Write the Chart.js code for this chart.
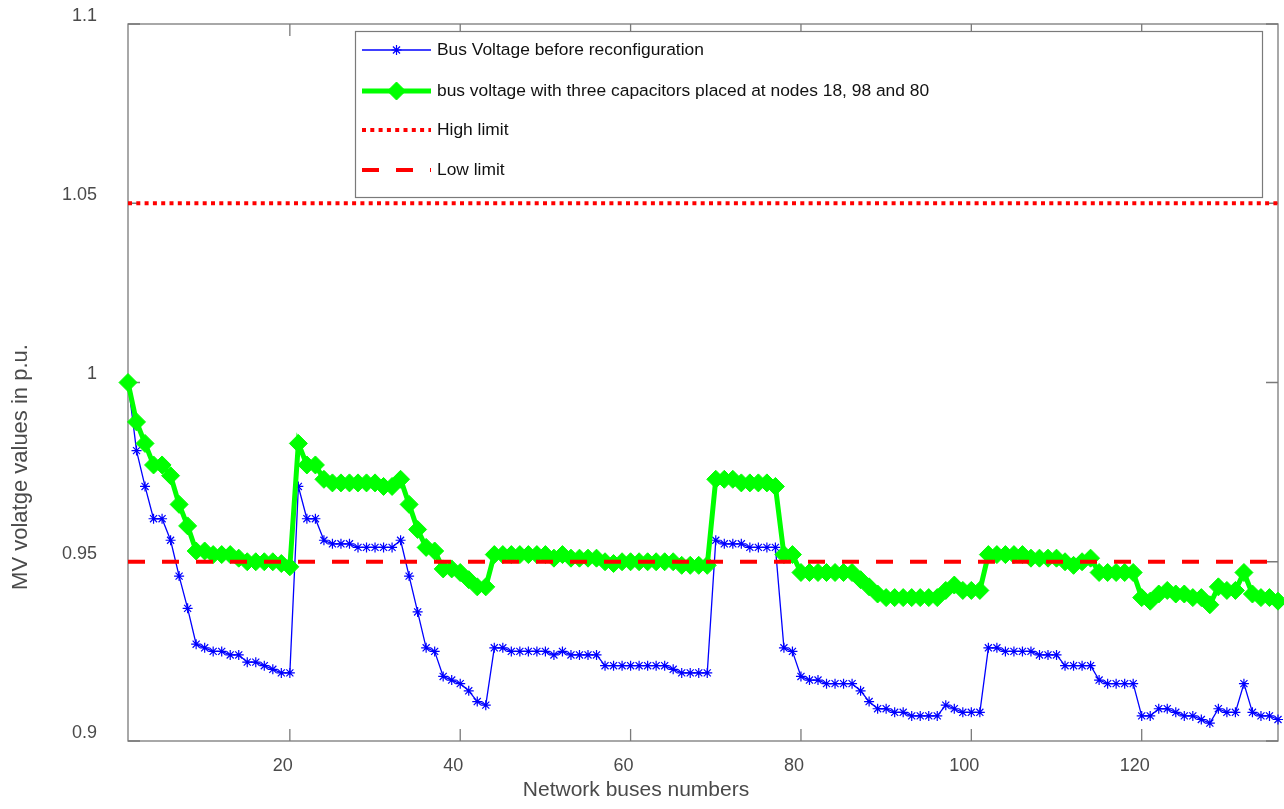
<!DOCTYPE html>
<html>
<head>
<meta charset="utf-8">
<title>Bus voltage profile</title>
<script src="https://cdn.jsdelivr.net/npm/chart.js@4.4.1/dist/chart.umd.min.js"></script>
<style>
  html, body { margin: 0; padding: 0; background: #fff; }
  #voltageChart { display: block; }
</style>
</head>
<body>
<canvas id="voltageChart" width="1284" height="809"></canvas>
<script>
// bus voltages (p.u.), bus 1 .. 136
const voltageBefore = [
    1.000, 0.981, 0.971, 0.962, 0.962, 0.956, 0.946, 0.937, 0.927, 0.926,
    0.925, 0.925, 0.924, 0.924, 0.922, 0.922, 0.921, 0.920, 0.919, 0.919,
    0.971, 0.962, 0.962, 0.956, 0.955, 0.955, 0.955, 0.954, 0.954, 0.954,
    0.954, 0.954, 0.956, 0.946, 0.936, 0.926, 0.925, 0.918, 0.917, 0.916,
    0.914, 0.911, 0.910, 0.926, 0.926, 0.925, 0.925, 0.925, 0.925, 0.925,
    0.924, 0.925, 0.924, 0.924, 0.924, 0.924, 0.921, 0.921, 0.921, 0.921,
    0.921, 0.921, 0.921, 0.921, 0.920, 0.919, 0.919, 0.919, 0.919, 0.956,
    0.955, 0.955, 0.955, 0.954, 0.954, 0.954, 0.954, 0.926, 0.925, 0.918,
    0.917, 0.917, 0.916, 0.916, 0.916, 0.916, 0.914, 0.911, 0.909, 0.909,
    0.908, 0.908, 0.907, 0.907, 0.907, 0.907, 0.910, 0.909, 0.908, 0.908,
    0.908, 0.926, 0.926, 0.925, 0.925, 0.925, 0.925, 0.924, 0.924, 0.924,
    0.921, 0.921, 0.921, 0.921, 0.917, 0.916, 0.916, 0.916, 0.916, 0.907,
    0.907, 0.909, 0.909, 0.908, 0.907, 0.907, 0.906, 0.905, 0.909, 0.908,
    0.908, 0.916, 0.908, 0.907, 0.907, 0.906
];

const voltageWithCaps = [
    1.000, 0.989, 0.983, 0.977, 0.977, 0.974, 0.966, 0.960, 0.953, 0.953,
    0.952, 0.952, 0.952, 0.951, 0.950, 0.950, 0.950, 0.950, 0.9495, 0.9486,
    0.983, 0.977, 0.977, 0.973, 0.972, 0.972, 0.972, 0.972, 0.972, 0.972,
    0.971, 0.971, 0.973, 0.966, 0.959, 0.954, 0.953, 0.948, 0.948, 0.947,
    0.945, 0.943, 0.943, 0.952, 0.952, 0.952, 0.952, 0.952, 0.952, 0.952,
    0.951, 0.952, 0.951, 0.951, 0.951, 0.951, 0.950, 0.9495, 0.950, 0.950,
    0.950, 0.950, 0.950, 0.950, 0.950, 0.949, 0.949, 0.949, 0.949, 0.973,
    0.973, 0.973, 0.972, 0.972, 0.972, 0.972, 0.971, 0.952, 0.952, 0.947,
    0.947, 0.947, 0.947, 0.947, 0.947, 0.947, 0.945, 0.943, 0.941, 0.940,
    0.940, 0.940, 0.940, 0.940, 0.940, 0.940, 0.942, 0.9435, 0.942, 0.942,
    0.942, 0.952, 0.952, 0.952, 0.952, 0.952, 0.951, 0.951, 0.951, 0.951,
    0.950, 0.949, 0.950, 0.951, 0.947, 0.947, 0.947, 0.947, 0.947, 0.940,
    0.939, 0.941, 0.942, 0.941, 0.941, 0.940, 0.940, 0.938, 0.943, 0.942,
    0.942, 0.947, 0.941, 0.940, 0.940, 0.939
];

const highLimit = 1.05;
const lowLimit = 0.95;
const firstBus = 1;
const lastBus = 136;

const busNumbers = voltageBefore.map((v, i) => i + 1);
const xTickValues = [20, 40, 60, 80, 100, 120];
const yTickValues = [0.9, 0.95, 1, 1.05, 1.1];

const seriesNames = [
    'Bus Voltage before reconfiguration',
    'bus voltage with three capacitors placed at nodes 18, 98 and 80',
    'High limit',
    'Low limit'
];
const xTitle = 'Network buses numbers';
const yTitle = 'MV volatge values in p.u.';

const FONT = '"Liberation Sans", Arial, Helvetica, sans-serif';
const AXIS_GREY = '#7a7a7a';
const TEXT_GREY = '#4a4a4a';

// drop the extra room chart.js keeps for the end labels
function noEndPadding(scale) {
    scale.paddingTop = 0;
    scale.paddingBottom = 0;
    scale.paddingLeft = 0;
    scale.paddingRight = 0;
}

// box, inward ticks, legend and axis titles drawn the matlab way
const matlabFrame = {
    id: 'matlabFrame',
    beforeDatasetsDraw(chart) {
        const { ctx, chartArea: a, scales } = chart;
        ctx.save();
        ctx.strokeStyle = AXIS_GREY;
        ctx.lineWidth = 1.3;
        ctx.strokeRect(a.left, a.top, a.right - a.left, a.bottom - a.top);
        const tl = 12;
        ctx.beginPath();
        xTickValues.forEach(t => {
            const px = scales.x.getPixelForValue(t);
            ctx.moveTo(px, a.bottom); ctx.lineTo(px, a.bottom - tl);
            ctx.moveTo(px, a.top); ctx.lineTo(px, a.top + tl);
        });
        yTickValues.forEach(t => {
            const py = scales.y.getPixelForValue(t);
            ctx.moveTo(a.left, py); ctx.lineTo(a.left + tl, py);
            ctx.moveTo(a.right, py); ctx.lineTo(a.right - tl, py);
        });
        ctx.stroke();
        ctx.restore();
    },
    afterDatasetsDraw(chart, args, opts) {
        const { ctx } = chart;
        const box = opts.box;
        ctx.save();
        ctx.fillStyle = '#fff';
        ctx.fillRect(box.x, box.y, box.w, box.h);
        ctx.strokeStyle = AXIS_GREY;
        ctx.lineWidth = 1.2;
        ctx.strokeRect(box.x + 0.5, box.y + 0.5, box.w, box.h);

        chart.data.datasets.forEach((ds, i) => {
            const y = opts.rows[i];
            ctx.strokeStyle = ds.borderColor;
            ctx.lineWidth = ds.borderWidth;
            ctx.lineCap = 'butt';
            ctx.setLineDash(ds.borderDash || []);
            ctx.beginPath();
            ctx.moveTo(opts.lineFrom, y);
            ctx.lineTo(opts.lineTo, y);
            ctx.stroke();
            ctx.setLineDash([]);
            if (ds.pointRadius > 0) {
                ctx.fillStyle = ds.pointBackgroundColor;
                ctx.strokeStyle = ds.pointBorderColor;
                ctx.lineWidth = ds.pointBorderWidth;
                Chart.helpers.drawPoint(ctx, {
                    pointStyle: ds.pointStyle,
                    radius: ds.pointRadius,
                    rotation: 0,
                    borderWidth: ds.pointBorderWidth
                }, (opts.lineFrom + opts.lineTo) / 2, y);
            }
            ctx.fillStyle = '#111';
            ctx.font = '17.4px ' + FONT;
            ctx.textBaseline = 'middle';
            ctx.textAlign = 'left';
            ctx.fillText(ds.label, opts.textX, y);
        });
        ctx.restore();
    },
    afterDraw(chart) {
        const { ctx } = chart;
        ctx.save();
        ctx.fillStyle = TEXT_GREY;
        ctx.textAlign = 'center';
        ctx.textBaseline = 'middle';
        ctx.font = '21px ' + FONT;
        ctx.fillText(xTitle, 636, 790);
        ctx.font = '22px ' + FONT;
        ctx.translate(21, 467);
        ctx.rotate(-Math.PI / 2);
        ctx.fillText(yTitle, 0, 0);
        ctx.restore();
    }
};

const ctx = document.getElementById('voltageChart').getContext('2d');
new Chart(ctx, {
    type: 'line',
    data: {
        labels: busNumbers,
        datasets: [
            {
                label: seriesNames[0],
                data: voltageBefore,
                borderColor: '#0000ff',
                borderWidth: 1.3,
                pointStyle: 'star',
                pointRadius: 5,
                pointBorderWidth: 1.2,
                pointBackgroundColor: '#0000ff',
                pointBorderColor: '#0000ff',
                clip: false,
                order: 4
            },
            {
                label: seriesNames[1],
                data: voltageWithCaps,
                borderColor: '#00ff00',
                borderWidth: 5,
                pointStyle: 'rectRot',
                pointRadius: 9,
                pointBorderWidth: 1,
                pointBackgroundColor: '#00ff00',
                pointBorderColor: '#00ff00',
                clip: false,
                order: 3
            },
            {
                label: seriesNames[2],
                data: [{ x: firstBus, y: highLimit }, { x: lastBus, y: highLimit }],
                borderColor: '#ff0000',
                borderWidth: 4,
                borderDash: [4, 4.3],
                pointRadius: 0,
                order: 2
            },
            {
                label: seriesNames[3],
                data: [{ x: firstBus, y: lowLimit }, { x: lastBus, y: lowLimit }],
                borderColor: '#ff0000',
                borderWidth: 4,
                borderDash: [17, 17],
                pointRadius: 0,
                order: 1
            }
        ]
    },
    options: {
        responsive: false,
        animation: false,
        layout: { autoPadding: false, padding: { top: 24, right: 6, left: 0, bottom: 0 } },
        scales: {
            x: {
                type: 'linear',
                min: firstBus,
                max: lastBus,
                afterBuildTicks: scale => { scale.ticks = xTickValues.map(v => ({ value: v })); },
                afterFit: scale => { scale.height = 68; noEndPadding(scale); },
                grid: { display: false, drawTicks: false },
                border: { display: false },
                ticks: {
                    padding: 14,
                    labelOffset: -7,
                    maxRotation: 0,
                    color: TEXT_GREY,
                    font: { family: FONT, size: 18 }
                }
            },
            y: {
                min: 0.9,
                max: 1.1,
                afterBuildTicks: scale => { scale.ticks = yTickValues.map(v => ({ value: v })); },
                afterFit: scale => { scale.width = 128; noEndPadding(scale); },
                grid: { display: false, drawTicks: false },
                border: { display: false },
                ticks: {
                    padding: 31,
                    labelOffset: -8,
                    color: TEXT_GREY,
                    font: { family: FONT, size: 18 },
                    callback: v => String(Math.round(v * 100) / 100)
                }
            }
        },
        plugins: {
            legend: { display: false },
            tooltip: { enabled: false },
            matlabFrame: {
                box: { x: 355, y: 31, w: 907, h: 166 },
                rows: [50, 91, 130, 170],
                lineFrom: 362,
                lineTo: 431,
                textX: 437
            }
        }
    },
    plugins: [matlabFrame]
});
</script>
</body>
</html>
